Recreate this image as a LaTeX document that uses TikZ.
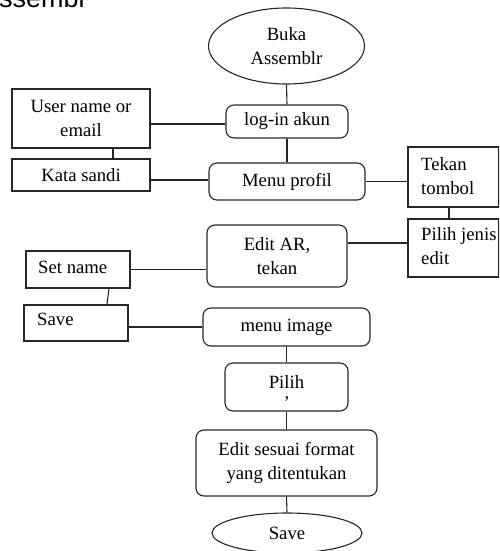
\documentclass[tikz,border=0pt]{standalone}
\usepackage{fontspec}
\setmainfont{Liberation Serif}
\newfontfamily\fragfont{Liberation Sans}
\usetikzlibrary{shapes.geometric}
\newcommand\diagfont{\fontsize{18.7}{24.5}\selectfont}
\begin{document}
\begin{tikzpicture}[x=1pt,y=-1pt,
  box/.style={draw=black!85, line width=1.1pt, inner sep=0pt, align=center, font=\diagfont},
  rbox/.style={box, rounded corners=8pt},
  term/.style={box, ellipse},
  txt/.style={inner sep=0pt, anchor=west, align=left, font=\diagfont},
  conn/.style={draw=black!85, line width=1.1pt}]
\useasboundingbox (0,0) rectangle (499,551);
\clip (0,0) rectangle (499,551);
\node[anchor=base west, inner sep=0pt, font=\fragfont\fontsize{27}{30}\selectfont] (frag) at (-1,8) {ssembl};
% main column
\node[term, minimum width=156pt, minimum height=76pt] (start) at (286.5,46) {Buka\\Assemblr};
\node[rbox, minimum width=122pt, minimum height=33pt] (login) at (287,121.5) {log-in akun};
\node[rbox, minimum width=156pt, minimum height=37pt] (menu) at (287,181.5) {Menu profil};
\node[rbox, minimum width=140pt, minimum height=62pt] (editar) at (277,256) {Edit AR,\\tekan};
\node[rbox, minimum width=167pt, minimum height=38pt] (menuimg) at (286.5,327) {menu image};
\node[rbox, minimum width=123pt, minimum height=48pt] (pilih) at (286.5,387) {};
\node[inner sep=0pt, font=\diagfont] (pilihw) at (286.5,382) {Pilih};
\node[inner sep=0pt, font=\diagfont] (pilihc) at (287,399) {,};
\node[rbox, minimum width=181pt, minimum height=66pt] (editfmt) at (286.5,463) {Edit sesuai format\\yang ditentukan};
\node[term, minimum width=150pt, minimum height=40pt] (saveend) at (287,533) {Save};
% left side
\node[box, minimum width=138pt, minimum height=59pt] (user) at (81,118.5) {User name or\\email};
\node[box, minimum width=138pt, minimum height=32pt] (kata) at (81,175) {Kata sandi};
\node[box, minimum width=104pt, minimum height=37pt] (setname) at (78,269.5) {};
\node[txt] (setnamet) at (38,267) {Set name};
\node[box, minimum width=104pt, minimum height=36pt] (save1) at (76,323) {};
\node[txt] (save1t) at (37,319) {Save};
% right side
\node[box, minimum width=91pt, minimum height=60pt] (tekan) at (453.5,177) {};
\node[txt] (tekant) at (421,176) {Tekan\\tombol};
\node[box, minimum width=91pt, minimum height=58pt] (pilihjenis) at (453.5,248) {};
\node[txt] (pilihjenist) at (421,246) {Pilih jenis\\edit};
% connectors
\draw[conn] (start.south) -- (login.north);
\draw[conn] (login.south) -- (menu.north);
\draw[conn] ([yshift=-2.5pt]login.west -| user.east) -- ([yshift=-2.5pt]login.west);
\draw[conn] ([xshift=32pt]user.south) -- ([xshift=32pt]kata.north);
\draw[conn] ([yshift=1.5pt]menu.west -| kata.east) -- ([yshift=1.5pt]menu.west);
\draw[conn] (menu.east) -- (menu.east -| tekan.west);
\draw[conn] ([xshift=-4.5pt]tekan.south) -- ([xshift=-4.5pt]pilihjenis.north);
\draw[conn] ([yshift=5pt]pilihjenis.west -| editar.east) -- ([yshift=5pt]pilihjenis.west);
\draw[conn] (setname.east) -- (setname.east -| editar.west);
\draw[conn] ([xshift=31pt]setname.south) -- ([xshift=31pt]save1.north);
\draw[conn] ([yshift=-4pt]save1.east) -- ([yshift=-4pt]save1.east -| menuimg.west);
\draw[conn] (menuimg.south) -- (pilih.north);
\draw[conn] (pilih.south) -- (editfmt.north);
\draw[conn] (editfmt.south) -- (saveend.north);
\end{tikzpicture}
\end{document}
